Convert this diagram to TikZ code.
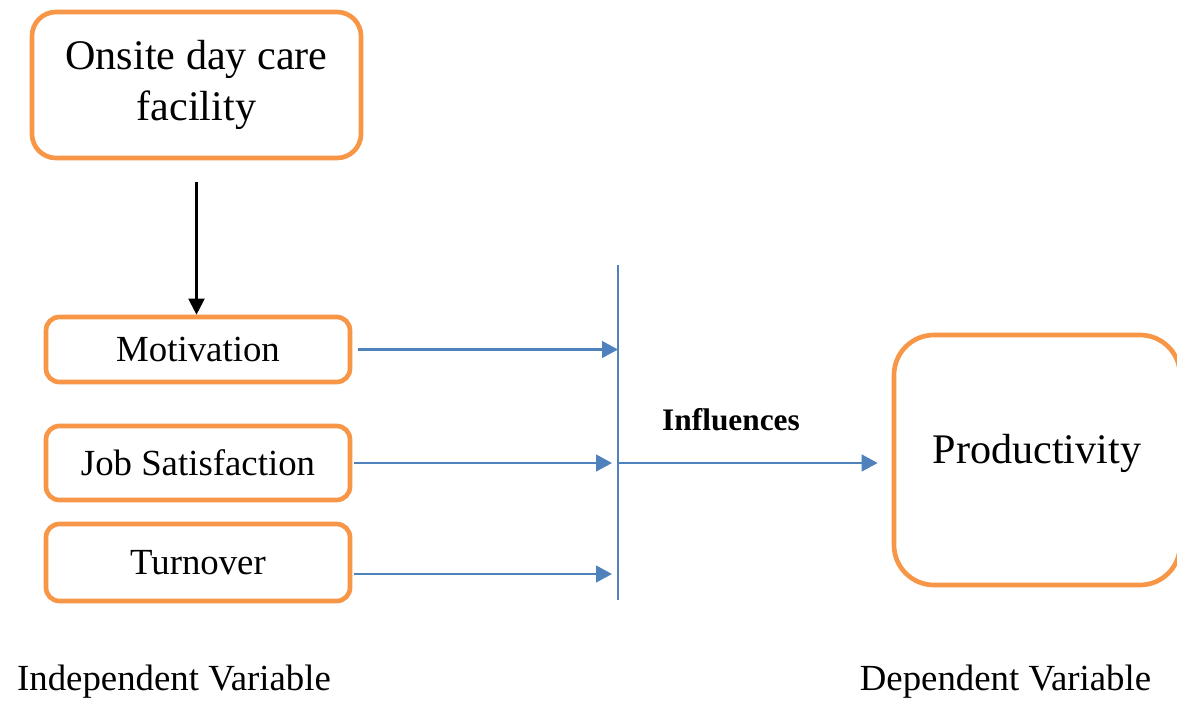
\documentclass[tikz,border=0pt]{standalone}
\usepackage{fontspec}
\setmainfont{Liberation Serif}
\usetikzlibrary{arrows.meta}
\definecolor{boxorange}{HTML}{F79646}
\definecolor{linkblue}{HTML}{4F81BD}
\def\bigfont{\fontsize{31.6}{38}\selectfont}
\def\midfont{\fontsize{27.6}{33}\selectfont}
\def\smallfont{\fontsize{23.5}{28}\selectfont}
\tikzset{
	varbox/.style={draw=boxorange, line width=3.5pt, rounded corners=#1, align=center, inner sep=0pt},
	link/.style={draw=linkblue, line width=1.8pt, -{Triangle[length=12pt,width=12.5pt]}},
}

\begin{document}
\begin{tikzpicture}[x=0.75pt, y=-0.75pt]
		%%%%% START %%%%%
		\useasboundingbox (0,0) rectangle (1177,700);
		
		\node[varbox=18pt, minimum width=246.75pt, minimum height=109.5pt, font=\bigfont] (care) at (196.5,85) {Onsite day care\\facility};
		
		\node[varbox=10pt, minimum width=228pt, minimum height=48.75pt, font=\midfont] (mot) at (198,349.5) {Motivation};
		\node[varbox=10pt, minimum width=228pt, minimum height=55.5pt, font=\midfont] (job) at (198,463) {Job Satisfaction};
		\node[varbox=10pt, minimum width=228pt, minimum height=57.75pt, font=\midfont] (turn) at (198,562.5) {Turnover};
		
		\node[varbox=30pt, minimum width=214.5pt, minimum height=187.5pt, text depth=16pt, font=\bigfont] (prod) at (1037,460) {Productivity};
		
		\draw[line width=1.6pt, -{Triangle[length=12pt,width=12pt]}, shorten <=16.5pt] (care.south) -- (care.south |- mot.north);
		
		\coordinate (bartop) at (618,265);
		\coordinate (barbot) at (618,600);
		\draw[linkblue, line width=1.6pt] (bartop) -- (barbot);
		
		\draw[link, shorten <=4pt] (mot.east) -- (mot.east -| bartop);
		\draw[link, shorten <=1pt, shorten >=4.5pt] (job.east) -- (job.east -| bartop);
		\draw[link, shorten <=1pt, shorten >=4.5pt] (turn.east |- 0,574) -- (bartop |- 0,574);
		\draw[link, shorten >=10.5pt] (job.east -| bartop) -- (prod.west |- job.east);
		
		\node[font=\smallfont\bfseries] (infl) at (731,420) {Influences};
		
		\node[font=\midfont] (indep) at (174,682) {Independent Variable};
		\node[font=\midfont] (dep) at (1005.5,682) {Dependent Variable};
		%%%%% END %%%%%
\end{tikzpicture}
\end{document}
